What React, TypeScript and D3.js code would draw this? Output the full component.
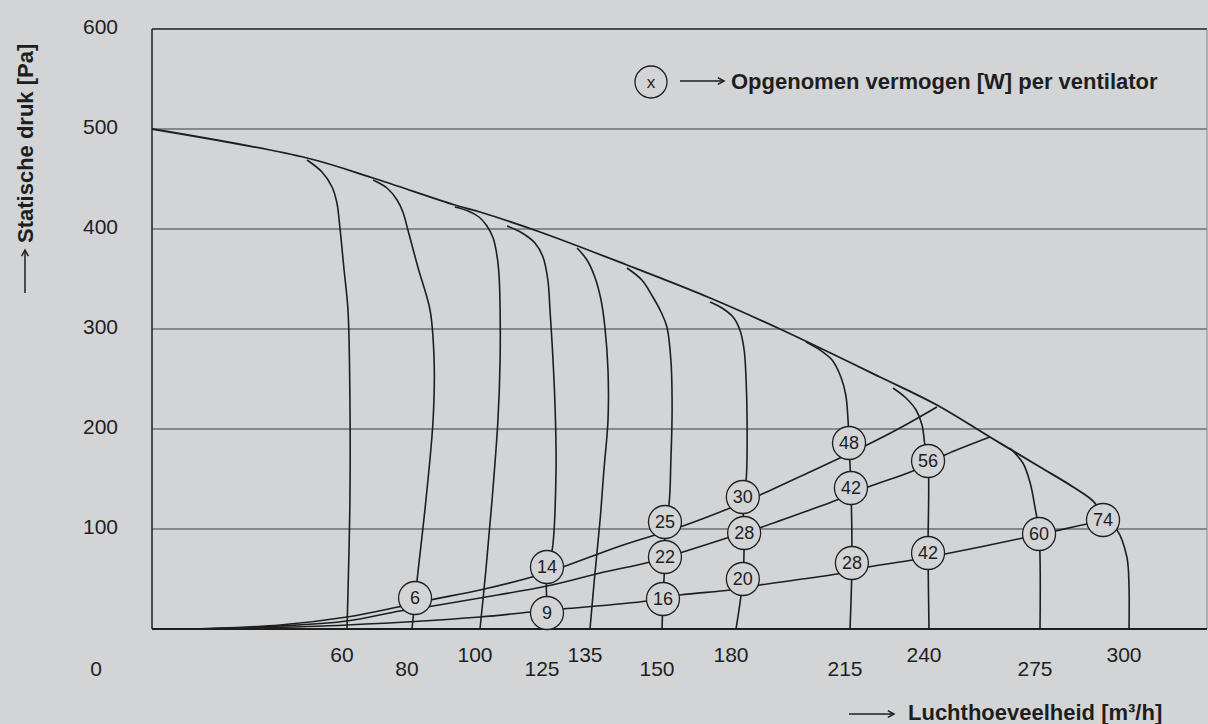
import * as d3 from "d3";

const W = 1208;
const H = 724;
const PLOT = { left: 152, right: 1207, top: 29, bottom: 629 };

const BG = "#d3d4d6";
const INK = "#1e1e1e";
const FONT = "'Liberation Sans', Arial, Helvetica, sans-serif";

// axis ticks
const flowTicks = [60, 80, 100, 125, 135, 150, 180, 215, 240, 275, 300];
const pressureTicks = [100, 200, 300, 400, 500, 600];

// max. fan curve [m3/h, Pa]
const maxCurve: [number, number][] = [
  [0, 500], [47.7, 471], [68, 451], [92.6, 424], [100, 417], [122.4, 397],
  [142.7, 364], [169.5, 331], [193.5, 300], [224.5, 252], [242.5, 224],
  [259.2, 192], [275, 162], [284.3, 142], [290.4, 126], [292.7, 109],
];

// fan setting curves, one per nominal flow
const speed60: [number, number][] = [
  [47.7, 469], [52.3, 457], [55.4, 442], [56.9, 426], [57.8, 402], [59.1, 359],
  [60.3, 319], [60.9, 229], [60.9, 129], [60, 0],
];
const speed80: [number, number][] = [
  [68, 449], [72.3, 441], [75.4, 429], [77.2, 417], [78.5, 402], [81.8, 361],
  [85.3, 319], [86.5, 269], [86.2, 209], [84.1, 129], [81.5, 49], [80, 0],
];
const speed100: [number, number][] = [
  [92.6, 422], [96.5, 418], [99.7, 412], [102.6, 403], [104.9, 391], [106.3, 374],
  [107.1, 354], [107.5, 319], [107.5, 269], [106.7, 209], [104.5, 129], [102.2, 59], [100, 0],
];
const speed125: [number, number][] = [
  [110.1, 403], [115.7, 396], [120.5, 386], [123.5, 372], [125.2, 349], [125.7, 319],
  [126.4, 269], [126.9, 219], [127.1, 159], [126.2, 79], [125, 62], [125, 16], [125, 0],
];
const speed135: [number, number][] = [
  [132.0, 381], [134.3, 369], [136.0, 352], [137.3, 329], [138.1, 302], [138.75, 259],
  [138.75, 209], [137.9, 159], [137.1, 109], [136.0, 54], [135, 0],
];
const speed150: [number, number][] = [
  [142.7, 361], [145.8, 349], [148.1, 332], [149.8, 317], [152.0, 302], [153.6, 269],
  [154.1, 219], [153.6, 169], [152.8, 124], [151.2, 107], [151.2, 72], [150.4, 30], [150, 0],
];
const speed180: [number, number][] = [
  [169.5, 327], [174.3, 321], [178.8, 312], [181.2, 299], [182.5, 279], [183.1, 249],
  [183.4, 209], [183.1, 149], [182.1, 132], [182.5, 96], [182.1, 50], [180, 0],
];
const speed215: [number, number][] = [
  [201.5, 287], [205.8, 279], [209.5, 269], [212.2, 252], [213.7, 234], [214.4, 209],
  [214.7, 186], [215.3, 141], [215.6, 66], [215, 0],
];
const speed240: [number, number][] = [
  [228.6, 241], [232.7, 231], [235.9, 219], [237.8, 204], [238.7, 184], [239.7, 168],
  [239.7, 76], [240, 0],
];
const speed275: [number, number][] = [
  [265.5, 181], [269.6, 166], [271.9, 146], [273.4, 122], [274.7, 95], [275, 0],
];
const speed300: [number, number][] = [
  [292.7, 109], [296.6, 99], [299.4, 72], [300, 42], [300, 0],
];

// system resistance curves
const systemHigh: [number, number][] = [
  [13.2, 0], [39.4, 4], [60, 12], [75.7, 22], [85.3, 29], [100, 39], [119.4, 52],
  [128.7, 62], [141.3, 83], [157.3, 102], [177.6, 121], [187.4, 134], [202.7, 157],
  [211.9, 171], [219.1, 182], [230.8, 201], [242.5, 222],
];
const systemMid: [number, number][] = [
  [16.3, 0], [39.4, 3], [60, 8], [76.3, 18], [84.4, 22], [100, 31], [125, 43],
  [137.1, 56], [147.5, 67], [158.5, 77], [176.3, 91], [188.0, 102], [202.7, 119],
  [211.0, 129], [220.7, 142], [234.9, 158], [245.0, 174], [259.2, 192],
];
const systemLow: [number, number][] = [
  [20.9, 0], [60, 4], [100, 12], [118.7, 17], [128.7, 20], [146.9, 28], [157.3, 34],
  [177.6, 39], [187.4, 44], [202.7, 51], [211.0, 55], [220.7, 62], [234.9, 69],
  [245.0, 75], [256.1, 82], [269.6, 91], [279.2, 98], [288.2, 105], [292.7, 109],
];

// power consumption [W]: flow, pressure, watt
const powerPoints: [number, number, number][] = [
  [80.9, 31, 6], [125, 62, 14], [125, 16, 9], [151.2, 107, 25], [151.2, 72, 22],
  [150.4, 30, 16], [182.1, 132, 30], [182.5, 96, 28], [182.1, 50, 20],
  [214.7, 186, 48], [215.3, 141, 42], [215.6, 66, 28], [239.7, 168, 56],
  [239.7, 76, 42], [274.7, 95, 60], [292.7, 109, 74],
];

const speedCurves = [
  speed60, speed80, speed100, speed125, speed135, speed150,
  speed180, speed215, speed240, speed275, speed300,
];
const systemCurves = [systemHigh, systemMid, systemLow];

// the original axis is hand drawn, so the flow scale is piecewise
const xScale = d3.scaleLinear()
  .domain([0, ...flowTicks, 325])
  .range([152, 347, 412, 480, 547, 590, 662, 736, 850, 929, 1040, 1129, 1218]);

const yScale = d3.scaleLinear()
  .domain([0, 600])
  .range([PLOT.bottom, PLOT.top]);

const line = d3.line<[number, number]>()
  .x(d => xScale(d[0]))
  .y(d => yScale(d[1]))
  .curve(d3.curveCatmullRom.alpha(0.5));

function Arrow({ x1, y1, x2, y2 }: { x1: number; y1: number; x2: number; y2: number }) {
  const a = Math.atan2(y2 - y1, x2 - x1);
  const h = 7;
  const p1 = [x2 - h * Math.cos(a - 0.5), y2 - h * Math.sin(a - 0.5)];
  const p2 = [x2 - h * Math.cos(a + 0.5), y2 - h * Math.sin(a + 0.5)];
  return (
    <g stroke={INK} strokeWidth={1.5} fill="none">
      <line x1={x1} y1={y1} x2={x2} y2={y2} />
      <polyline points={`${p1[0]},${p1[1]} ${x2},${y2} ${p2[0]},${p2[1]}`} />
    </g>
  );
}

export default function App() {
  return (
    <svg
      width={W}
      height={H}
      style={{ position: "absolute", left: 0, top: 0, display: "block" }}
      fontFamily={FONT}
    >
      <rect width={W} height={H} fill={BG} />

      {/* grid */}
      {pressureTicks.slice(0, -1).map(v => (
        <line key={v} x1={PLOT.left} x2={PLOT.right} y1={yScale(v)} y2={yScale(v)}
          stroke="#3c3c3c" strokeWidth={1.2} />
      ))}

      {/* frame */}
      <line x1={PLOT.left} x2={PLOT.right} y1={PLOT.top} y2={PLOT.top} stroke={INK} strokeWidth={1.5} />
      <line x1={PLOT.left} x2={PLOT.left} y1={PLOT.top} y2={PLOT.bottom} stroke={INK} strokeWidth={1.5} />
      <line x1={PLOT.right} x2={PLOT.right} y1={PLOT.top} y2={PLOT.bottom} stroke="#8a8a8a" strokeWidth={1} />
      <line x1={PLOT.left} x2={PLOT.right} y1={PLOT.bottom} y2={PLOT.bottom} stroke={INK} strokeWidth={2.2} />

      {/* curves */}
      <g fill="none" stroke={INK} strokeWidth={1.6}>
        <path d={line(maxCurve) ?? ""} strokeWidth={1.8} />
        {speedCurves.map((c, i) => <path key={"s" + i} d={line(c) ?? ""} />)}
        {systemCurves.map((c, i) => <path key={"r" + i} d={line(c) ?? ""} />)}
      </g>

      {/* power labels */}
      {powerPoints.map(([q, p, w], i) => (
        <g key={i} transform={`translate(${xScale(q)},${yScale(p)})`}>
          <circle r={16.5} fill={BG} stroke={INK} strokeWidth={1.3} />
          <text textAnchor="middle" dy="0.36em" fontSize={18} fill={INK}>{w}</text>
        </g>
      ))}

      {/* y ticks */}
      {pressureTicks.map(v => (
        <text key={v} x={118} y={yScale(v) - 3} dy="0.36em" textAnchor="end" fontSize={21} fill={INK}>{v}</text>
      ))}
      <text x={96} y={668} dy="0.36em" textAnchor="middle" fontSize={21} fill={INK}>0</text>

      {/* x ticks, staggered in two rows */}
      {flowTicks.map((v, i) => (
        <text key={v} x={xScale(v) - 5} y={i % 2 === 0 ? 654 : 668} dy="0.36em"
          textAnchor="middle" fontSize={21} fill={INK}>{v}</text>
      ))}

      {/* axis titles */}
      <Arrow x1={849} y1={714} x2={894} y2={714} />
      <text x={908} y={720} fontSize={22} fontWeight="bold" fill={INK}>Luchthoeveelheid [m³/h]</text>

      <Arrow x1={25} y1={293} x2={25} y2={250} />
      <text transform="translate(33,243) rotate(-90)" fontSize={22} fontWeight="bold" fill={INK}>
        Statische druk [Pa]
      </text>

      {/* legend */}
      <circle cx={651} cy={82} r={16} fill={BG} stroke={INK} strokeWidth={1.3} />
      <text x={651} y={82} dy="0.36em" textAnchor="middle" fontSize={17} fill={INK}>x</text>
      <Arrow x1={680} y1={81} x2={724} y2={81} />
      <text x={731} y={89} fontSize={22} fontWeight="bold" fill={INK}>
        Opgenomen vermogen [W] per ventilator
      </text>
    </svg>
  );
}
